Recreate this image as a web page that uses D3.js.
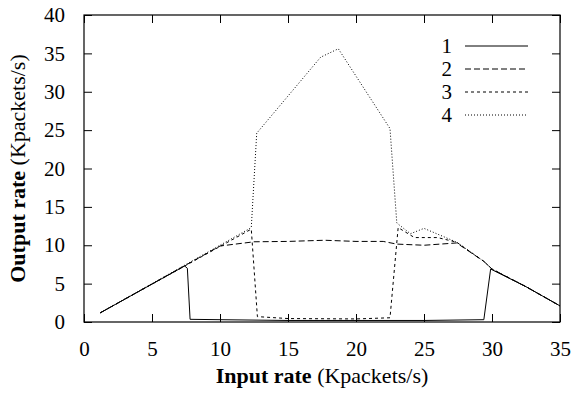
<!DOCTYPE html>
<html>
<head>
<meta charset="utf-8">
<script src="https://cdn.jsdelivr.net/npm/d3@7"></script>
<style>
  body { margin: 0; background: #fff; }
</style>
</head>
<body>
<div id="chart"></div>
<script>
// data: [input rate, output rate]
const series1 = [[1.2, 1.2], [7.4, 7.3], [7.6, 7.0], [7.8, 0.35], [10, 0.3], [15, 0.2], [20, 0.2], [25, 0.2], [29.4, 0.3], [29.9, 6.9], [32.5, 4.6], [35, 2.1]];
const series2 = [[1.2, 1.2], [10, 9.9], [12.5, 10.45], [15, 10.5], [17.7, 10.65], [20, 10.5], [22, 10.5], [23, 10.15], [25, 10.0], [27.4, 10.3], [29.4, 7.9], [30, 6.9], [32.5, 4.6], [35, 2.1]];
const series3 = [[1.2, 1.2], [12.3, 12.1], [12.75, 0.7], [15, 0.45], [20, 0.4], [22.5, 0.55], [23.1, 12.3], [24.3, 11.0], [26, 11.0], [27.4, 10.4], [29.4, 7.9], [30, 6.9], [32.5, 4.6], [35, 2.1]];
const series4 = [[1.2, 1.2], [12.3, 12.3], [12.7, 24.6], [17.4, 34.5], [18.7, 35.6], [22.5, 25.2], [23.0, 12.9], [23.5, 12.2], [24.0, 11.5], [25.0, 12.2], [27.4, 10.4], [29.4, 7.9], [30, 6.9], [32.5, 4.6], [35, 2.1]];
const seriesNames = ["1", "2", "3", "4"];
const xTicks = [0, 5, 10, 15, 20, 25, 30, 35];
const yTicks = [0, 5, 10, 15, 20, 25, 30, 35, 40];

const serif = "'Liberation Serif', 'DejaVu Serif', serif";

const margin = { top: 15, right: 14, bottom: 72, left: 84 };
const width = 574 - margin.left - margin.right;
const height = 394 - margin.top - margin.bottom;

const svg = d3.select("#chart")
    .append("svg")
    .attr("width", 574)
    .attr("height", 394)
    .append("g")
    .attr("transform", `translate(${margin.left},${margin.top})`);

const x = d3.scaleLinear().domain([0, 35]).range([0, width]);
const y = d3.scaleLinear().domain([0, 40]).range([height, 0]);

// inward ticks on all four sides, gnuplot style
const tick = 8;
svg.append("g")
    .attr("transform", `translate(0,${height})`)
    .call(d3.axisBottom(x).tickValues(xTicks).tickSize(-tick).tickPadding(tick + 11));
svg.append("g")
    .call(d3.axisLeft(y).tickValues(yTicks).tickSize(-tick).tickPadding(tick + 11));
svg.append("g")
    .call(d3.axisTop(x).tickValues(xTicks).tickSize(-tick).tickFormat(""));
svg.append("g")
    .attr("transform", `translate(${width},0)`)
    .call(d3.axisRight(y).tickValues(yTicks).tickSize(-tick).tickFormat(""));

svg.selectAll(".domain").remove();
svg.selectAll(".tick line").attr("stroke", "#000").attr("stroke-width", 1);
svg.selectAll(".tick text")
    .attr("fill", "#000")
    .attr("font-family", serif)
    .attr("font-size", 21);

svg.append("rect")
    .attr("width", width)
    .attr("height", height)
    .attr("fill", "none")
    .attr("stroke", "#000")
    .attr("stroke-width", 1.2);

// lines
const dashes = [null, "6,3", "3,3", "1,2"];
const allSeries = [series1, series2, series3, series4];
const line = d3.line().x(d => x(d[0])).y(d => y(d[1]));

svg.selectAll(".series")
    .data(allSeries)
    .enter()
    .append("path")
    .attr("class", "series")
    .attr("fill", "none")
    .attr("stroke", "#000")
    .attr("stroke-width", 1)
    .attr("stroke-dasharray", (d, i) => dashes[i])
    .attr("d", d => line(d));

// legend
const legend = svg.selectAll(".legend")
    .data(seriesNames)
    .enter()
    .append("g")
    .attr("class", "legend")
    .attr("transform", (d, i) => `translate(0,${31 + i * 23})`);

legend.append("text")
    .attr("x", 368)
    .attr("dy", "0.35em")
    .attr("text-anchor", "end")
    .attr("font-family", serif)
    .attr("font-size", 21)
    .text(d => d);

legend.append("line")
    .attr("x1", 381)
    .attr("x2", 444)
    .attr("stroke", "#000")
    .attr("stroke-width", 1)
    .attr("stroke-dasharray", (d, i) => dashes[i]);

// axis labels
const xLabel = svg.append("text")
    .attr("x", width / 2)
    .attr("y", height + 61)
    .attr("text-anchor", "middle")
    .attr("font-family", serif)
    .attr("font-size", 22);
xLabel.append("tspan").attr("font-weight", "bold").text("Input rate");
xLabel.append("tspan").text(" (Kpackets/s)");

const yLabel = svg.append("text")
    .attr("transform", "rotate(-90)")
    .attr("x", -height / 2)
    .attr("y", -59)
    .attr("text-anchor", "middle")
    .attr("font-family", serif)
    .attr("font-size", 22);
yLabel.append("tspan").attr("font-weight", "bold").text("Output rate");
yLabel.append("tspan").text(" (Kpackets/s)");
</script>
</body>
</html>
